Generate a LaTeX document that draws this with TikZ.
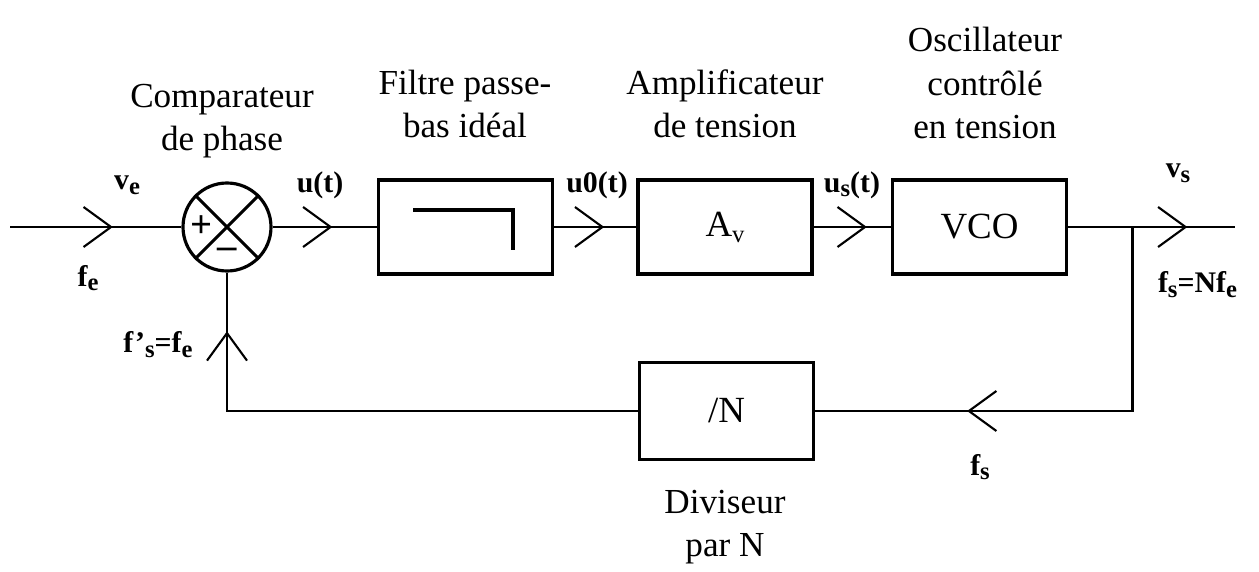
\documentclass[tikz,border=0pt]{standalone}
\usepackage{fontspec}
\setmainfont{Liberation Serif}
\usetikzlibrary{positioning,arrows.meta,decorations.markings}
\newcommand{\lowsub}[1]{\raisebox{-0.35ex}{\fontsize{14}{14}\selectfont #1}}
\tikzset{
  blocnode/.style={draw,line width=2.2pt,minimum width=3.48cm,minimum height=1.88cm,
    font=\fontsize{21}{23}\selectfont,inner sep=0pt},
  compnode/.style={draw,circle,line width=1.8pt,minimum size=1.76cm,inner sep=0pt},
  capnode/.style={align=center,font=\fontsize{20}{24.5}\selectfont},
  sigtext/.style={font=\fontsize{17}{20}\selectfont\bfseries},
  signtext/.style={font=\fontsize{22}{22}\selectfont\bfseries,inner sep=0pt},
  wire/.style={line width=1.7pt},
  chevron/.style={postaction={decorate},decoration={markings,
    mark=at position #1 with {\arrow{Straight Barb[length=0.55cm,width=0.8cm,line width=1.2pt]}}}},
}

\begin{document}
\begin{tikzpicture}
  \useasboundingbox (0,0) rectangle (25.18,-11.44);
  % Blocks of the loop
  \node[compnode] (cmp) at (4.54,-4.54) {};
  \node[blocnode] (filt) at (9.31,-4.54) {};
  \node[blocnode] (amp) at (14.5,-4.54) {A\lowsub{v}};
  \node[blocnode] (vco) at (19.59,-4.54) {VCO};
  \node[blocnode,minimum height=1.94cm] (div) at (14.53,-8.22) {/N};
  \coordinate (vin) at (0.2,-4.54);
  \coordinate (br) at (22.64,-4.54);
  \coordinate (vout) at (24.7,-4.54);
  % Comparator cross and signs
  \draw[line width=1.8pt] (cmp.north west) -- (cmp.south east)
    (cmp.north east) -- (cmp.south west);
  \node[signtext] (plus) at ([xshift=-0.5cm]cmp.center) {+};
  \node[signtext] (minus) at ([yshift=-0.52cm]cmp.center) {--};
  % Ideal low-pass symbol
  \draw[line width=1.8pt] ([shift={(-1.05,0.34)}]filt.center) -- ++(2.0,0) -- ++(0,-0.8);
  % Captions
  \node[capnode] (capcmp) at (4.44,-2.42) {Comparateur\\de phase};
  \node[capnode] (capfilt) at (9.3,-2.08) {Filtre passe-\\bas idéal};
  \node[capnode] (capamp) at (14.5,-2.08) {Amplificateur\\de tension};
  \node[capnode] (capvco) at (19.7,-1.66) {Oscillateur\\contrôlé\\en tension};
  \node[capnode] (capdiv) at (14.5,-10.54) {Diviseur\\par N};
  % Signal labels
  \node[sigtext] (ve) at (2.54,-3.7) {v\lowsub{e}};
  \node[sigtext] (fe) at (1.76,-5.56) {f\lowsub{e}};
  \node[sigtext] (ut) at (6.4,-3.7) {u(t)};
  \node[sigtext] (uzt) at (11.94,-3.7) {u0(t)};
  \node[sigtext] (ust) at (17.04,-3.7) {u\lowsub{s}(t)};
  \node[sigtext] (vs) at (23.56,-3.46) {v\lowsub{s}};
  \node[sigtext] (fsn) at (23.95,-5.7) {f\lowsub{s}=Nf\lowsub{e}};
  \node[sigtext] (fsb) at (19.6,-9.34) {f\lowsub{s}};
  \node[sigtext] (fps) at (3.16,-6.9) {f'\lowsub{s}=f\lowsub{e}};
  % Connectors
  \draw[wire,chevron=0.6] (vin) -- (cmp.west);
  \draw[wire,chevron=0.575] (cmp.east) -- (filt.west);
  \draw[wire,chevron=0.61] (filt.east) -- (amp.west);
  \draw[wire,chevron=0.69] (amp.east) -- (vco.west);
  \draw[wire,chevron=0.714] (vco.east) -- (vout);
  \draw[wire,chevron=0.697] (br) |- (div.east);
  \draw[wire,chevron=0.893] (div.west) -| (cmp.south);
\end{tikzpicture}
\end{document}
